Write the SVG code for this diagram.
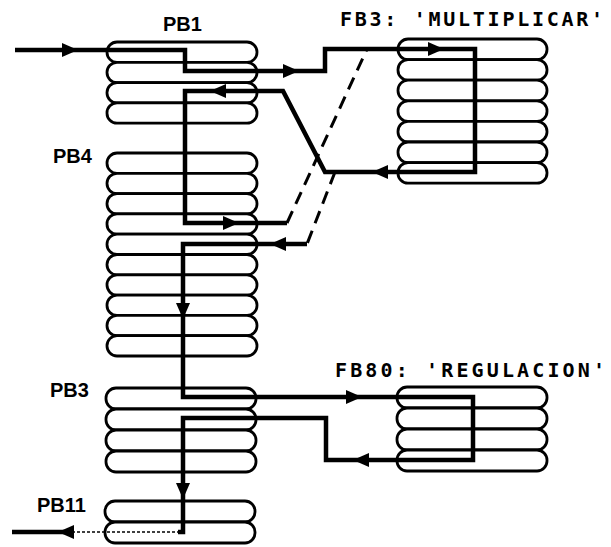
<svg xmlns="http://www.w3.org/2000/svg" width="611" height="547" viewBox="0 0 611 547">
<style>
.slot{fill:#fff;stroke:#000;stroke-width:2.8}
.pb{font-family:"Liberation Sans",Arial,sans-serif;font-weight:bold;font-size:20px;fill:#000}
.fb{font-family:"DejaVu Sans Mono","Liberation Mono",monospace;font-weight:bold;font-size:20px;fill:#000}
.wire{fill:none;stroke:#000;stroke-width:4.5;stroke-linejoin:miter}
.dash{fill:none;stroke:#000;stroke-width:3;stroke-dasharray:13 8}
.faint{fill:none;stroke:#000;stroke-width:1.6;stroke-dasharray:3 2}
</style>
<defs>
<path id="ah" d="M0,0 L-16,-7 L-16,7 Z" fill="#000"/>
</defs>
<rect width="611" height="547" fill="#fff"/>

<g id="PB1">
<rect class="slot" x="107" y="42" width="150" height="20.3" rx="10"/>
<rect class="slot" x="107" y="62.3" width="150" height="20.3" rx="10"/>
<rect class="slot" x="107" y="82.6" width="150" height="20.3" rx="10"/>
<rect class="slot" x="107" y="102.9" width="150" height="20.3" rx="10"/>
<text class="pb" x="163" y="31">PB1</text>
</g>

<g id="PB4">
<rect class="slot" x="107" y="153" width="150" height="20.3" rx="10"/>
<rect class="slot" x="107" y="173.3" width="150" height="20.3" rx="10"/>
<rect class="slot" x="107" y="193.6" width="150" height="20.3" rx="10"/>
<rect class="slot" x="107" y="213.9" width="150" height="20.3" rx="10"/>
<rect class="slot" x="107" y="234.2" width="150" height="20.3" rx="10"/>
<rect class="slot" x="107" y="254.5" width="150" height="20.3" rx="10"/>
<rect class="slot" x="107" y="274.8" width="150" height="20.3" rx="10"/>
<rect class="slot" x="107" y="295.1" width="150" height="20.3" rx="10"/>
<rect class="slot" x="107" y="315.4" width="150" height="20.3" rx="10"/>
<rect class="slot" x="107" y="335.7" width="150" height="20.3" rx="10"/>
<text class="pb" x="53" y="163">PB4</text>
</g>

<g id="PB3">
<rect class="slot" x="106" y="388" width="150" height="21" rx="10"/>
<rect class="slot" x="106" y="409" width="150" height="21" rx="10"/>
<rect class="slot" x="106" y="430" width="150" height="21" rx="10"/>
<rect class="slot" x="106" y="451" width="150" height="21" rx="10"/>
<text class="pb" x="50" y="397">PB3</text>
</g>

<g id="PB11">
<rect class="slot" x="105" y="501" width="150" height="21" rx="10"/>
<rect class="slot" x="105" y="522" width="150" height="21" rx="10"/>
<text class="pb" x="37" y="512">PB11</text>
</g>

<g id="FB3">
<rect class="slot" x="398" y="39" width="149" height="20.6" rx="10"/>
<rect class="slot" x="398" y="59.6" width="149" height="20.6" rx="10"/>
<rect class="slot" x="398" y="80.2" width="149" height="20.6" rx="10"/>
<rect class="slot" x="398" y="100.8" width="149" height="20.6" rx="10"/>
<rect class="slot" x="398" y="121.4" width="149" height="20.6" rx="10"/>
<rect class="slot" x="398" y="142" width="149" height="20.6" rx="10"/>
<rect class="slot" x="398" y="162.6" width="149" height="20.6" rx="10"/>
<text class="fb" x="340" y="26" textLength="263" lengthAdjust="spacing">FB3: 'MULTIPLICAR'</text>
</g>

<g id="FB80">
<rect class="slot" x="397" y="387" width="150" height="21" rx="10"/>
<rect class="slot" x="397" y="408" width="150" height="21" rx="10"/>
<rect class="slot" x="397" y="429" width="150" height="21" rx="10"/>
<rect class="slot" x="397" y="450" width="150" height="21" rx="10"/>
<text class="fb" x="335" y="377" textLength="270" lengthAdjust="spacing">FB80: 'REGULACION'</text>
</g>

<g id="connectors">
<path class="wire" d="M15,50 H185 V71 H325 V49 H475 V172 H325 L283,91 H185 V223 H287"/>
<path class="dash" d="M287,223 L367,49"/>
<path class="dash" d="M335,172 L307,244"/>
<path class="wire" d="M307,244 H183 V397 H473 V460 H326 V418 H183 V532 H178"/>
<path class="faint" d="M180,532 H68"/>
<path class="wire" d="M70,532 H12"/>
<use href="#ah" transform="translate(78,50)"/>
<use href="#ah" transform="translate(299,71)"/>
<use href="#ah" transform="translate(444,49)"/>
<use href="#ah" transform="translate(372,172) rotate(180)"/>
<use href="#ah" transform="translate(210,91) rotate(180)"/>
<use href="#ah" transform="translate(239,223)"/>
<use href="#ah" transform="translate(270,244) rotate(180)"/>
<use href="#ah" transform="translate(183,319) rotate(90)"/>
<use href="#ah" transform="translate(362,397)"/>
<use href="#ah" transform="translate(353,460) rotate(180)"/>
<use href="#ah" transform="translate(183,499) rotate(90)"/>
<use href="#ah" transform="translate(58,532) rotate(180)"/>
</g>
</svg>
